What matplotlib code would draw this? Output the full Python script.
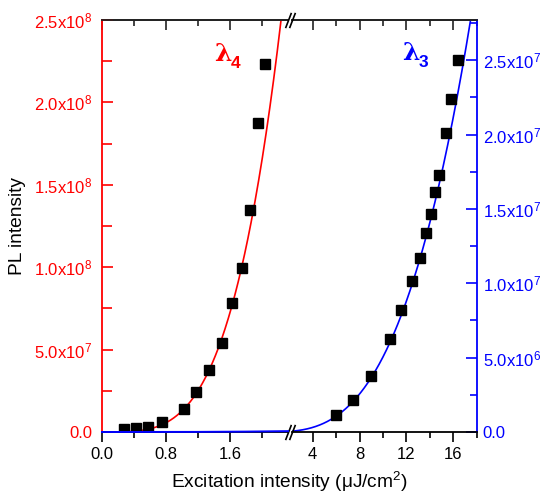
import numpy as np
import matplotlib
matplotlib.use('Agg')
import matplotlib.pyplot as plt
from matplotlib.ticker import MultipleLocator

plt.rcParams['font.family'] = ['Liberation Sans', 'DejaVu Sans']
plt.rcParams['mathtext.fontset'] = 'custom'
plt.rcParams['mathtext.rm'] = 'Liberation Sans'
plt.rcParams['mathtext.it'] = 'Liberation Sans:italic'
plt.rcParams['mathtext.bf'] = 'Liberation Sans:bold'

# ---- data ----
l4_x = [0.27, 0.43, 0.57, 0.75, 1.03, 1.18, 1.34, 1.50, 1.63, 1.75, 1.85, 1.95, 2.04]
l4_y = [1.6e6, 2.4e6, 3.2e6, 6.3e6, 1.42e7, 2.41e7, 3.77e7, 5.43e7, 7.80e7, 9.96e7,
        1.349e8, 1.875e8, 2.232e8]
l3_x = [5.97, 7.47, 8.98, 10.58, 11.52, 12.51, 13.17, 13.68, 14.11, 14.41, 14.79,
        15.37, 15.82, 16.44]
l3_y = [1.12e6, 2.14e6, 3.75e6, 6.25e6, 8.22e6, 1.016e7, 1.171e7, 1.339e7, 1.467e7,
        1.614e7, 1.725e7, 2.013e7, 2.242e7, 2.50e7]

# power-law fits y = a * x^n
l4_fit_n = 3.69
l4_fit_a = 1.279e7
l3_fit_n = 3.05
l3_fit_a = 1.0e7 / 12.51 ** 3.05

left_xlim = (0.0, 2.325)
right_xlim = (2.234, 18.02)
left_ylim = (0.0, 2.5e8)
right_ylim = (0.0, 2.77e7)

left_xticks = [0.0, 0.8, 1.6]
left_xticklabels = ['0.0', '0.8', '1.6']
right_xticks = [4, 8, 12, 16]
right_xticklabels = ['4', '8', '12', '16']
left_yticks = [0.0, 5e7, 1e8, 1.5e8, 2e8, 2.5e8]
left_yticklabels = ['0.0', '5.0x10$^{7}$', '1.0x10$^{8}$', '1.5x10$^{8}$',
                    '2.0x10$^{8}$', '2.5x10$^{8}$']
right_yticks = [0.0, 5e6, 1e7, 1.5e7, 2e7, 2.5e7]
right_yticklabels = ['0.0', '5.0x10$^{6}$', '1.0x10$^{7}$', '1.5x10$^{7}$',
                     '2.0x10$^{7}$', '2.5x10$^{7}$']

RED = '#ff0000'
BLUE = '#0000ff'
W, H = 540, 493

fig = plt.figure(figsize=(W / 100, H / 100), dpi=100)
bot = 1 - 432 / H
hgt = (432 - 20) / H
ax_l = fig.add_axes([102 / W, bot, (288 - 102) / W, hgt])
ax_r = fig.add_axes([292 / W, bot, (477 - 292) / W, hgt])

# ---- left part (lambda 4, red scale) ----
xl = np.linspace(left_xlim[0], left_xlim[1], 400)
ax_l.plot(xl, l4_fit_a * xl ** l4_fit_n, color=RED, lw=1.2, zorder=2)
ax_l.plot(l4_x, l4_y, 's', color='black', ms=6.7, zorder=3)
ax_l.set_xlim(*left_xlim)
ax_l.set_ylim(*left_ylim)

ax_lb = ax_l.twinx()
ax_lb.set_ylim(*right_ylim)
ax_lb.plot(xl, l3_fit_a * xl ** l3_fit_n, color=BLUE, lw=1.4, clip_on=False)
ax_lb.axis('off')

# ---- right part (lambda 3, blue scale) ----
xr = np.linspace(right_xlim[0], right_xlim[1], 400)
ax_r.plot(xr, l3_fit_a * xr ** l3_fit_n, color=BLUE, lw=1.2, zorder=2)
ax_r.plot(l3_x, l3_y, 's', color='black', ms=6.7, zorder=3)
ax_r.set_xlim(*right_xlim)
ax_r.set_ylim(*right_ylim)

# ---- spines ----
for ax in (ax_l, ax_r):
    for s in ax.spines.values():
        s.set_linewidth(1.3)
    ax.spines['top'].set_color('#222222')
    ax.spines['bottom'].set_color('black')
ax_l.spines['right'].set_visible(False)
ax_l.spines['left'].set_color(RED)
ax_r.spines['left'].set_visible(False)
ax_r.spines['right'].set_color(BLUE)

# ---- ticks ----
ax_l.set_xticks(left_xticks)
ax_l.set_xticklabels(left_xticklabels)
ax_l.xaxis.set_minor_locator(MultipleLocator(0.4))
ax_r.set_xticks(right_xticks)
ax_r.set_xticklabels(right_xticklabels)
ax_r.xaxis.set_minor_locator(MultipleLocator(2))

ax_l.set_yticks(left_yticks)
ax_l.set_yticklabels(left_yticklabels)
ax_l.yaxis.set_minor_locator(MultipleLocator(2.5e7))
ax_r.yaxis.tick_right()
ax_r.set_yticks(right_yticks)
ax_r.set_yticklabels(right_yticklabels)
ax_r.yaxis.set_minor_locator(MultipleLocator(2.5e6))

for ax in (ax_l, ax_r):
    ax.tick_params(axis='x', which='major', direction='out', length=7, width=1.2,
                   labelsize=12, pad=4, colors='black', top=False)
    ax.tick_params(axis='x', which='minor', direction='out', length=4, width=1.2,
                   top=False)
    sec = ax.secondary_xaxis('top')
    sec.set_xticks(ax.get_xticks())
    sec.xaxis.set_minor_locator(ax.xaxis.get_minor_locator())
    sec.tick_params(axis='x', which='major', direction='in', length=7, width=1.2,
                    labeltop=False, color='#222222')
    sec.tick_params(axis='x', which='minor', direction='in', length=4, width=1.2,
                    color='#222222')
    sec.spines['top'].set_linewidth(1.3)
    sec.spines['top'].set_color('#222222')

ax_l.tick_params(axis='y', which='major', direction='in', length=8, width=1.2,
                 labelsize=12, pad=7, color=RED, labelcolor=RED, right=False)
ax_l.tick_params(axis='y', which='minor', direction='in', length=7, width=1.2,
                 color=RED, right=False)
ax_r.tick_params(axis='y', which='major', direction='in', length=8, width=1.2,
                 labelsize=12, pad=4, color=BLUE, labelcolor=BLUE, left=False)
ax_r.tick_params(axis='y', which='minor', direction='in', length=5, width=1.2,
                 color=BLUE, left=False)

# ---- break marks ----
slash = [(-1.0, -2.6), (1.0, 2.6)]
for ax, xpos in ((ax_l, 1.0), (ax_r, 0.0)):
    for ypos in (0.0, 1.0):
        ax.plot([xpos], [ypos], transform=ax.transAxes, marker=slash, ms=11,
                mew=1.2, color='black', clip_on=False, zorder=5)

# ---- lambda labels ----
t4 = ax_l.text(0.652, 0.917, 'λ', transform=ax_l.transAxes, color=RED,
               fontsize=18, fontweight='bold', family='DejaVu Serif',
               ha='center', va='center')
ax_l.annotate('4', xy=(0.95, 0.12), xycoords=t4, color=RED, fontsize=12.5,
              fontweight='bold', ha='left', va='center')
t3 = ax_r.text(0.640, 0.920, 'λ', transform=ax_r.transAxes, color=BLUE,
               fontsize=18, fontweight='bold', family='DejaVu Serif',
               ha='center', va='center')
ax_r.annotate('3', xy=(0.95, 0.12), xycoords=t3, color=BLUE, fontsize=12.5,
              fontweight='bold', ha='left', va='center')

# ---- axis titles ----
fig.text(17.5 / W, 1 - 226 / H, 'PL intensity', rotation=90, fontsize=13.8,
         ha='center', va='center', color='black')
fig.text(289.7 / W, 1 - 487.5 / H, 'Excitation intensity (μJ/cm$^{2}$)',
         fontsize=13.8, ha='center', va='baseline', color='black')

fig.savefig('out.png', dpi=100)
